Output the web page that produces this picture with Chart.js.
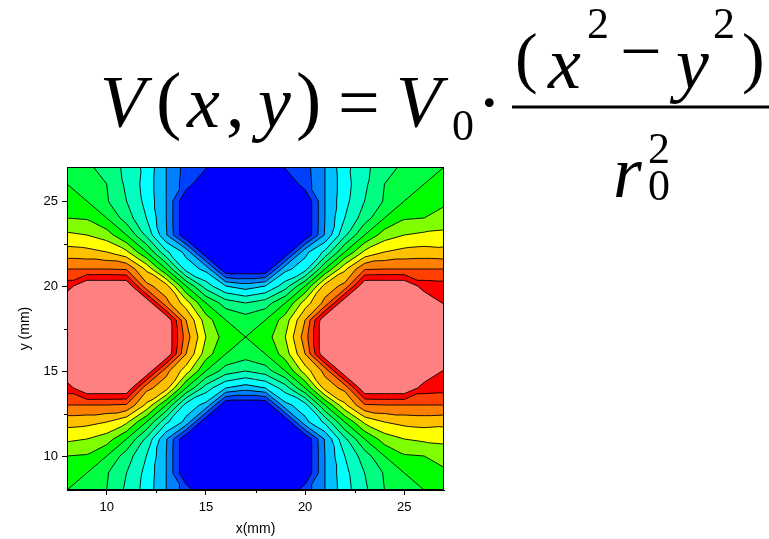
<!DOCTYPE html>
<html>
<head>
<meta charset="utf-8">
<script src="https://cdn.jsdelivr.net/npm/chart.js@4.4.1/dist/chart.umd.min.js"></script>
<style>
  html, body { margin: 0; padding: 0; background: #fff; }
  #wrap { position: relative; width: 769px; height: 539px; }
</style>
</head>
<body>
<div id="wrap"><canvas id="potentialChart"></canvas></div>
<script>
// grid positions in mm
const xGrid = [8, 9, 10, 11, 12, 13, 14, 15, 16, 17, 18, 19, 20, 21, 22, 23, 24, 25, 26, 27];
const yGrid = [27, 26, 25, 24, 23, 22, 21, 20, 19, 18, 17, 16, 15, 14, 13, 12, 11, 10, 9, 8];

// potential on the grid (one row per yGrid entry, top row first)
const potential = [
  [-0.4, -0.85, -1.3, -2.3, -3.3, -5, -6.4, -6.9, -8, -8, -8, -6.9, -6.4, -5, -3.3, -2.3, -1.3, -0.85, -0.4, 0],
  [0, -0.6, -1, -2.2, -3.4, -5, -6.5, -8, -8, -8, -8, -8, -6.5, -5, -3.4, -2.2, -1, -0.6, 0, 0.4],
  [0.6, 0, -0.9, -2, -3.3, -5, -8, -8, -8, -8, -8, -8, -8, -5, -3.3, -2, -0.9, 0, 0.6, 0.85],
  [1, 0.9, 0, -1.5, -3, -5, -8, -8, -8, -8, -8, -8, -8, -5, -3, -1.5, 0, 0.9, 1, 1.3],
  [2.2, 2, 1.5, 0, -2.2, -4.9, -8, -8, -8, -8, -8, -8, -8, -4.9, -2.2, 0, 1.5, 2, 2.2, 2.3],
  [3.4, 3.3, 3, 2.2, 0, -2.8, -4.3, -8, -8, -8, -8, -8, -4.3, -2.8, 0, 2.2, 3, 3.3, 3.4, 3.3],
  [5, 5, 5, 4.9, 2.8, 0, -3.4, -4.3, -8, -8, -8, -4.3, -3.4, 0, 2.8, 4.9, 5, 5, 5, 5],
  [6.5, 8, 8, 8, 4.3, 3.4, 0, -2.5, -4, -4.5, -4, -2.5, 0, 3.4, 4.3, 8, 8, 8, 6.5, 6.4],
  [8, 8, 8, 8, 8, 4.3, 2.5, 0, -1.5, -2, -1.5, 0, 2.5, 4.3, 8, 8, 8, 8, 8, 6.9],
  [8, 8, 8, 8, 8, 8, 4, 1.5, 0, -0.5, 0, 1.5, 4, 8, 8, 8, 8, 8, 8, 8],
  [8, 8, 8, 8, 8, 8, 4.5, 2, 0.5, 0, 0.5, 2, 4.5, 8, 8, 8, 8, 8, 8, 8],
  [8, 8, 8, 8, 8, 8, 4, 1.5, 0, -0.5, 0, 1.5, 4, 8, 8, 8, 8, 8, 8, 8],
  [8, 8, 8, 8, 8, 4.3, 2.5, 0, -1.5, -2, -1.5, 0, 2.5, 4.3, 8, 8, 8, 8, 8, 6.9],
  [6.5, 8, 8, 8, 4.3, 3.4, 0, -2.5, -4, -4.5, -4, -2.5, 0, 3.4, 4.3, 8, 8, 8, 6.5, 6.4],
  [5, 5, 5, 4.9, 2.8, 0, -3.4, -4.3, -8, -8, -8, -4.3, -3.4, 0, 2.8, 4.9, 5, 5, 5, 5],
  [3.4, 3.3, 3, 2.2, 0, -2.8, -4.3, -8, -8, -8, -8, -8, -4.3, -2.8, 0, 2.2, 3, 3.3, 3.4, 3.3],
  [2.2, 2, 1.5, 0, -2.2, -4.9, -8, -8, -8, -8, -8, -8, -8, -4.9, -2.2, 0, 1.5, 2, 2.2, 2.3],
  [1, 0.9, 0, -1.5, -3, -5, -8, -8, -8, -8, -8, -8, -8, -5, -3, -1.5, 0, 0.9, 1, 1.3],
  [0.6, 0, -0.9, -2, -3.3, -5, -8, -8, -8, -8, -8, -8, -8, -5, -3.3, -2, -0.9, 0, 0.6, 0.85],
  [0, -0.6, -1, -2.2, -3.4, -5, -6.5, -8, -8, -8, -8, -8, -6.5, -5, -3.4, -2.2, -1, -0.6, 0, 0.4]
];

// contour levels and the fill colour of each band (lowest band first)
const levels = [-7, -6, -5, -4, -3, -2, -1, 0, 1, 2, 3, 4, 5, 6, 7];
const bandColors = ['#0000FF', '#0040FF', '#0080FF', '#00C0FF', '#00FFFF', '#00FFC0', '#00FF80', '#00FF40',
                    '#00FF00', '#80FF00', '#FFFF00', '#FFC000', '#FF8000', '#FF4000', '#FF0000', '#FF8080'];

const majorTicks = [10, 15, 20, 25];
const minorTicks = [12.5, 17.5, 22.5];

const serif = '"Liberation Serif", "Times New Roman", serif';
const sans = '"Liberation Sans", Arial, sans-serif';

// formula pieces: text, x, baseline, size, italic
const formula = [
  ['V', 100, 127, 74, true], ['(', 156, 125, 76, false], ['x', 187, 127, 74, true],
  [',', 226, 127, 74, false], ['y', 258, 127, 74, true], [')', 296, 125, 76, false],
  ['=', 338, 127, 74, false], ['V', 396, 127, 74, true], ['0', 452, 140, 44, false],
  ['\u00B7', 477, 127, 74, false],
  ['(', 515, 80, 68, false], ['x', 548, 88, 74, true], ['2', 587, 38, 44, false],
  ['\u2212', 620, 76, 74, false], ['y', 676, 88, 74, true], ['2', 713, 38, 44, false],
  [')', 742, 80, 68, false],
  ['r', 613, 197, 74, true], ['0', 648, 200, 44, false], ['2', 648, 163, 44, false]
];

function clipAbove(poly, level) {
  const out = [];
  for (let i = 0; i < poly.length; i++) {
    const a = poly[i], b = poly[(i + 1) % poly.length];
    const aIn = a.z >= level, bIn = b.z >= level;
    if (aIn) out.push(a);
    if (aIn !== bIn) {
      const t = (level - a.z) / (b.z - a.z);
      out.push({ px: a.px + t * (b.px - a.px), py: a.py + t * (b.py - a.py), z: level });
    }
  }
  return out;
}

const contourPlugin = {
  id: 'contour',
  beforeDatasetsDraw(chart) {
    const { ctx, chartArea: a, scales: { x, y } } = chart;
    const pt = (r, c) => ({ px: x.getPixelForValue(xGrid[c]), py: y.getPixelForValue(yGrid[r]), z: potential[r][c] });
    // two triangles per cell, cut along the diagonal whose ends differ least
    const tris = [];
    for (let r = 0; r < yGrid.length - 1; r++) {
      for (let c = 0; c < xGrid.length - 1; c++) {
        const tl = pt(r, c), tr = pt(r, c + 1), br = pt(r + 1, c + 1), bl = pt(r + 1, c);
        if (Math.abs(tl.z - br.z) <= Math.abs(bl.z - tr.z)) {
          tris.push([tl, tr, br], [tl, br, bl]);
        } else {
          tris.push([tl, tr, bl], [tr, br, bl]);
        }
      }
    }

    ctx.save();
    ctx.beginPath();
    ctx.rect(a.left, a.top, a.right - a.left, a.bottom - a.top);
    ctx.clip();

    ctx.fillStyle = bandColors[0];
    ctx.fillRect(a.left, a.top, a.right - a.left, a.bottom - a.top);
    levels.forEach((lv, k) => {
      ctx.beginPath();
      tris.forEach(t => {
        const poly = clipAbove(t, lv);
        if (poly.length < 3) return;
        ctx.moveTo(poly[0].px, poly[0].py);
        for (let i = 1; i < poly.length; i++) ctx.lineTo(poly[i].px, poly[i].py);
        ctx.closePath();
      });
      ctx.fillStyle = bandColors[k + 1];
      ctx.fill();
    });

    // contour lines
    ctx.beginPath();
    levels.forEach(lv => {
      tris.forEach(t => {
        const pts = [];
        for (let i = 0; i < 3; i++) {
          const p = t[i], q = t[(i + 1) % 3];
          if ((p.z >= lv) !== (q.z >= lv)) {
            const f = (lv - p.z) / (q.z - p.z);
            pts.push([p.px + f * (q.px - p.px), p.py + f * (q.py - p.py)]);
          }
        }
        if (pts.length === 2) {
          ctx.moveTo(pts[0][0], pts[0][1]);
          ctx.lineTo(pts[1][0], pts[1][1]);
        }
      });
    });
    ctx.strokeStyle = '#000';
    ctx.lineWidth = 0.9;
    ctx.stroke();
    ctx.restore();
  },
  afterDraw(chart) {
    const { ctx, chartArea: a, scales: { x, y } } = chart;
    ctx.save();
    ctx.strokeStyle = '#000';
    ctx.lineWidth = 1;
    ctx.strokeRect(a.left + 0.5, a.top + 0.5, a.right - a.left - 1, a.bottom - a.top - 1);
    ctx.beginPath();
    minorTicks.forEach(v => {
      const px = Math.round(x.getPixelForValue(v)) + 0.5;
      ctx.moveTo(px, a.bottom);
      ctx.lineTo(px, a.bottom + 3);
      const py = Math.round(y.getPixelForValue(v)) + 0.5;
      ctx.moveTo(a.left, py);
      ctx.lineTo(a.left - 3, py);
    });
    ctx.stroke();

    // potential formula
    ctx.fillStyle = '#000';
    ctx.textBaseline = 'alphabetic';
    ctx.textAlign = 'left';
    formula.forEach(([txt, fx, fy, size, italic]) => {
      ctx.font = (italic ? 'italic ' : '') + size + 'px ' + serif;
      ctx.fillText(txt, fx, fy);
    });
    ctx.fillRect(512, 105.5, 257, 3);
    ctx.restore();
  }
};

const axisBase = {
  type: 'linear',
  min: 8,
  max: 27,
  afterBuildTicks: scale => { scale.ticks = majorTicks.map(v => ({ value: v })); },
  grid: { drawOnChartArea: false, tickLength: 5, tickColor: '#000', tickWidth: 1 },
  border: { display: true, color: '#000', width: 1 },
  ticks: { color: '#000', font: { family: sans, size: 13 } }
};

new Chart(document.getElementById('potentialChart'), {
  type: 'scatter',
  data: { datasets: [{ data: [] }] },
  options: {
    responsive: true,
    maintainAspectRatio: false,
    animation: false,
    layout: { padding: { top: 167, right: 325, bottom: 0, left: 0 } },
    plugins: { legend: { display: false }, tooltip: { enabled: false } },
    scales: {
      x: Object.assign({}, axisBase, {
        position: 'bottom',
        afterFit: scale => { scale.height = 49; },
        ticks: { color: '#000', font: { family: sans, size: 13 }, padding: 5 },
        title: { display: true, text: 'x(mm)', color: '#000', font: { family: sans, size: 14 }, padding: { top: 0, bottom: 1 } }
      }),
      y: Object.assign({}, axisBase, {
        position: 'left',
        afterFit: scale => { scale.width = 67; },
        ticks: { color: '#000', font: { family: sans, size: 13 }, padding: 4 },
        title: { display: true, text: 'y (mm)', color: '#000', font: { family: sans, size: 14 }, padding: { top: 17, bottom: 0 } }
      })
    }
  },
  plugins: [contourPlugin]
});
</script>
</body>
</html>
